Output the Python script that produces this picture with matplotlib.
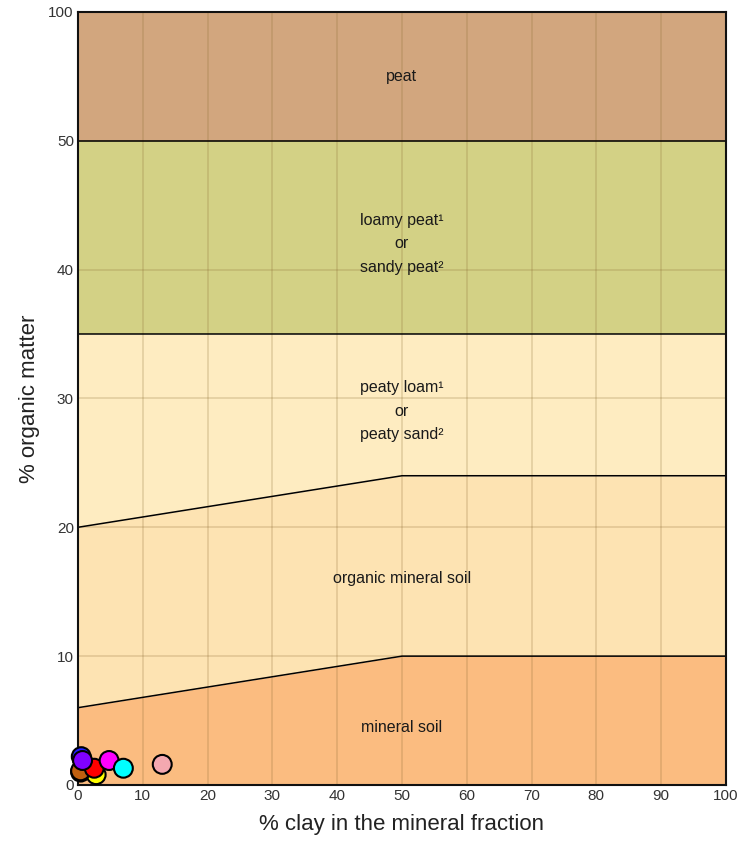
import numpy as np
import matplotlib
matplotlib.use('Agg')
import matplotlib.pyplot as plt

plt.rcParams['font.family'] = ['Liberation Sans', 'DejaVu Sans']

# --- datos ---
clay_edges = [0, 50, 100]
mineral_top = [6, 10, 10]
organic_top = [20, 24, 24]
peaty_top = 35
loamy_top = 50
peat_top = 100

zone_names = ['mineral soil', 'organic mineral soil',
              'peaty loam\u00b9\nor\npeaty sand\u00b2',
              'loamy peat\u00b9\nor\nsandy peat\u00b2', 'peat']
zone_label_y = [4.5, 16, 29, 42, 75]
zone_colors = ['#fbbc80', '#fde3b2', '#feecc1', '#d3d185', '#d2a67e']

xticks = [0, 10, 20, 30, 40, 50, 60, 70, 80, 90, 100]
yticks = [0, 10, 20, 30, 40, 50, 100]

# puntos de muestras (clay %, organic matter %)
samp_x = [0.4, 0.5, 2.8, 0.6, 0.4, 2.5, 0.7, 4.8, 7.0, 13.0]
samp_y = [1.0, 2.2, 0.8, 1.2, 1.1, 1.3, 1.9, 1.9, 1.3, 1.6]
samp_c = ['#00c000', '#2020ff', '#ffff00', '#000000', '#c06010', '#ff0000',
          '#8000ff', '#ff00ff', '#00ffff', '#f4a8b0']


def fwd(y):
    y = np.asarray(y, dtype=float)
    return np.where(y <= 50, y, 50 + (y - 50) / 5.0)


def inv(z):
    z = np.asarray(z, dtype=float)
    return np.where(z <= 50, z, 50 + (z - 50) * 5.0)


fig = plt.figure(figsize=(7.43, 8.49), dpi=100)
ax = fig.add_axes([0.105, 0.0754, 0.872, 0.9106])
ax.set_yscale('function', functions=(fwd, inv))

x = np.array(clay_edges)
ax.fill_between(x, 0, mineral_top, color=zone_colors[0], lw=0, zorder=0)
ax.fill_between(x, mineral_top, organic_top, color=zone_colors[1], lw=0, zorder=0)
ax.fill_between(x, organic_top, peaty_top, color=zone_colors[2], lw=0, zorder=0)
ax.fill_between(x, peaty_top, loamy_top, color=zone_colors[3], lw=0, zorder=0)
ax.fill_between(x, loamy_top, peat_top, color=zone_colors[4], lw=0, zorder=0)

# grid
for gx in xticks[1:-1]:
    ax.axvline(gx, color='#8a6a30', alpha=0.22, lw=1.3, zorder=1)
for gy in yticks[1:-1]:
    ax.axhline(gy, color='#8a6a30', alpha=0.22, lw=1.3, zorder=1)

# limites
ax.plot(x, mineral_top, color='black', lw=1.1, zorder=2)
ax.plot(x, organic_top, color='black', lw=1.1, zorder=2)
ax.axhline(peaty_top, color='black', lw=1.1, zorder=2)
ax.axhline(loamy_top, color='black', lw=1.1, zorder=2)

for name, ly in zip(zone_names, zone_label_y):
    ax.text(50, ly, name, ha='center', va='center', fontsize=11.5,
            color='#1a1a1a', linespacing=1.7, zorder=3)

ax.scatter(samp_x, samp_y, s=185, c=samp_c, edgecolors='black',
           linewidths=1.5, zorder=4, clip_on=False)

ax.set_xlim(0, 100)
ax.set_ylim(0, 100)
ax.set_xticks(xticks)
ax.set_yticks(yticks)
ax.set_yticklabels([str(t) for t in yticks])
ax.minorticks_off()
ax.tick_params(length=0, pad=3, labelsize=11, labelcolor='#333333')

for sp in ax.spines.values():
    sp.set_linewidth(1.5)
    sp.set_color('#111111')

ax.set_xlabel('% clay in the mineral fraction', fontsize=16, labelpad=8, color='#222222')
ax.set_ylabel('% organic matter', fontsize=16, labelpad=6, color='#222222')

fig.savefig('out.png', dpi=100)
